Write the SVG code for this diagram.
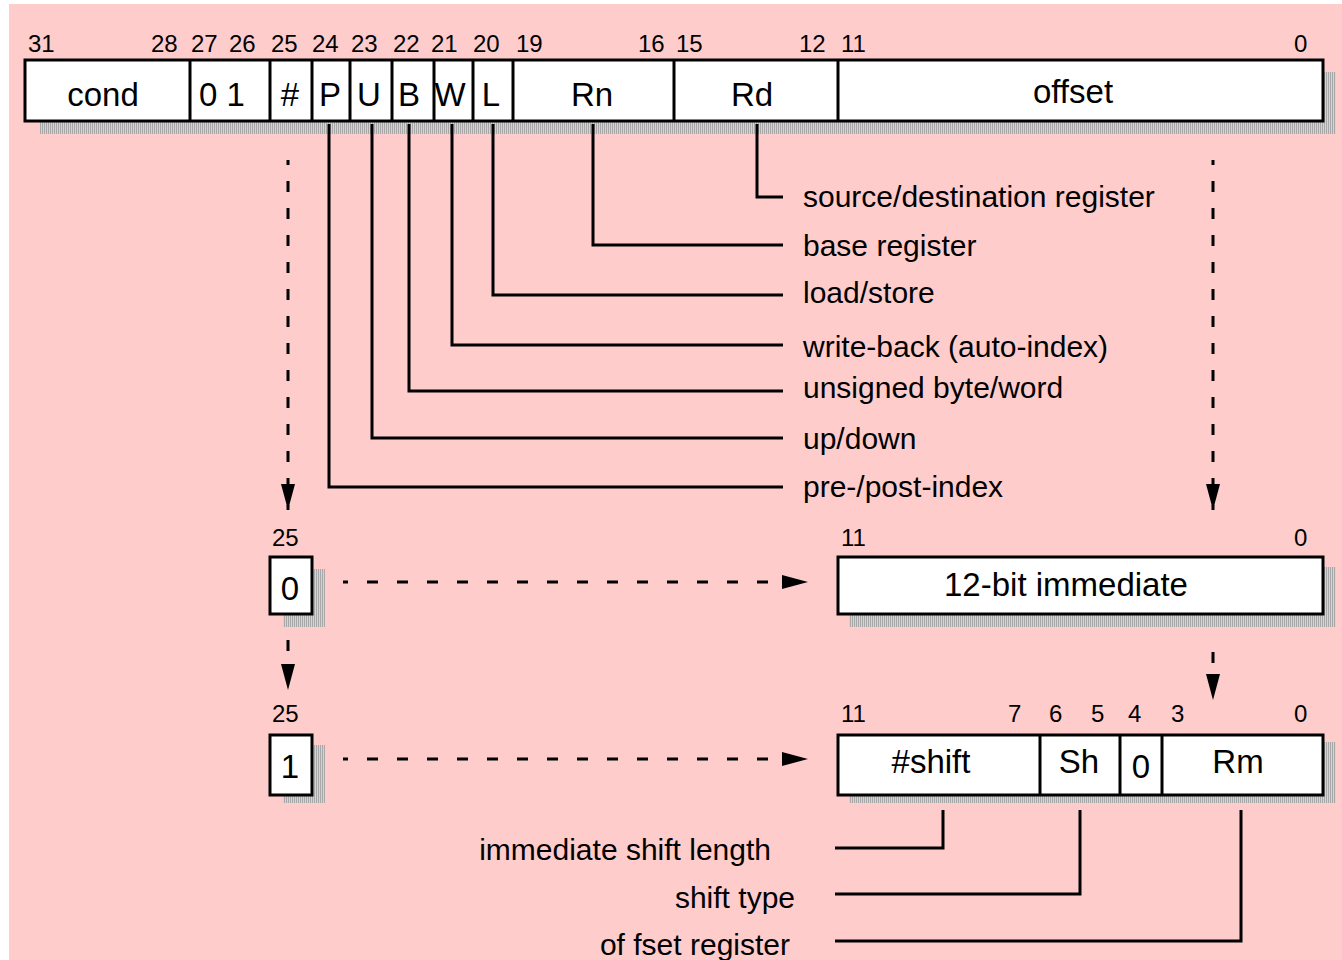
<svg xmlns="http://www.w3.org/2000/svg" width="1342" height="960" viewBox="0 0 1342 960">
<style>
.bg{fill:#ffcccc}
.box{fill:#fff;stroke:#000;stroke-width:3}
.div{stroke:#000;stroke-width:3;fill:none}
.shadow{fill:url(#stip)}
.num{font-family:"Liberation Sans",Arial,sans-serif;font-size:24px;fill:#000}
.fld{font-family:"Liberation Sans",Arial,sans-serif;font-size:33px;fill:#000;text-anchor:middle}
.lbl{font-family:"Liberation Sans",Arial,sans-serif;font-size:30px;fill:#000}
.lead{stroke:#000;stroke-width:3;fill:none}
.dashv{stroke:#000;stroke-width:3;fill:none;stroke-dasharray:11 16}
.dashh{stroke:#000;stroke-width:3;fill:none;stroke-dasharray:11 19}
</style>
<defs>
<pattern id="stip" width="2" height="2" patternUnits="userSpaceOnUse">
<rect width="2" height="2" fill="#d4d4d4"/>
<rect width="1" height="2" fill="#a8a8a8"/>
</pattern>
<marker id="ah" markerWidth="26" markerHeight="14" refX="26" refY="7" orient="auto" markerUnits="userSpaceOnUse">
<path d="M0,0 L26,7 L0,14 Z" fill="#000"/>
</marker>
</defs>
<rect class="bg" x="9" y="4" width="1333" height="956"/>

<g id="reg-main">
<rect class="shadow" x="40" y="72" width="1296" height="62"/>
<rect class="box" x="25" y="60" width="1298" height="61"/>
<path class="div" d="M190,60V121M270,60V121M312,60V121M350,60V121M392,60V121M434,60V121M473,60V121M513,60V121M674,60V121M838,60V121"/>
<text class="num" x="28" y="52">31</text>
<text class="num" x="151" y="52">28</text>
<text class="num" x="191" y="52">27</text>
<text class="num" x="229" y="52">26</text>
<text class="num" x="271" y="52">25</text>
<text class="num" x="312" y="52">24</text>
<text class="num" x="351" y="52">23</text>
<text class="num" x="393" y="52">22</text>
<text class="num" x="431" y="52">21</text>
<text class="num" x="473" y="52">20</text>
<text class="num" x="516" y="52">19</text>
<text class="num" x="638" y="52">16</text>
<text class="num" x="676" y="52">15</text>
<text class="num" x="799" y="52">12</text>
<text class="num" x="841" y="52">11</text>
<text class="num" x="1294" y="52">0</text>
<text class="fld" x="103" y="106">cond</text>
<text class="fld" x="222" y="106">0 1</text>
<text class="fld" x="290" y="106">#</text>
<text class="fld" x="330" y="106">P</text>
<text class="fld" x="369" y="106">U</text>
<text class="fld" x="409" y="106">B</text>
<text class="fld" x="450" y="106">W</text>
<text class="fld" x="491" y="106">L</text>
<text class="fld" x="592" y="106">Rn</text>
<text class="fld" x="752" y="106">Rd</text>
<text class="fld" x="1073" y="103">offset</text>
</g>

<g id="labels-main">
<text class="lbl" x="803" y="207">source/destination register</text>
<text class="lbl" x="803" y="256">base register</text>
<text class="lbl" x="803" y="303">load/store</text>
<text class="lbl" x="803" y="357">write-back (auto-index)</text>
<text class="lbl" x="803" y="398">unsigned byte/word</text>
<text class="lbl" x="803" y="449">up/down</text>
<text class="lbl" x="803" y="497">pre-/post-index</text>
</g>

<g id="bit25-0">
<rect class="shadow" x="283" y="569" width="42" height="58"/>
<rect class="box" x="270" y="557" width="42" height="57"/>
<text class="num" x="272" y="546">25</text>
<text class="fld" x="290" y="600">0</text>
</g>

<g id="imm12">
<rect class="shadow" x="849" y="567" width="487" height="60"/>
<rect class="box" x="838" y="557" width="485" height="57"/>
<text class="num" x="841" y="546">11</text>
<text class="num" x="1294" y="546">0</text>
<text class="fld" x="1066" y="596">12-bit immediate</text>
</g>

<g id="bit25-1">
<rect class="shadow" x="283" y="745" width="42" height="58"/>
<rect class="box" x="270" y="735" width="42" height="60"/>
<text class="num" x="272" y="722">25</text>
<text class="fld" x="290" y="778">1</text>
</g>

<g id="shiftreg">
<rect class="shadow" x="849" y="742" width="487" height="61"/>
<rect class="box" x="838" y="735" width="485" height="60"/>
<path class="div" d="M1040,735V795M1120,735V795M1162,735V795"/>
<text class="num" x="841" y="722">11</text>
<text class="num" x="1008" y="722">7</text>
<text class="num" x="1049" y="722">6</text>
<text class="num" x="1091" y="722">5</text>
<text class="num" x="1128" y="722">4</text>
<text class="num" x="1171" y="722">3</text>
<text class="num" x="1294" y="722">0</text>
<text class="fld" x="931" y="773">#shift</text>
<text class="fld" x="1079" y="773">Sh</text>
<text class="fld" x="1141" y="778">0</text>
<text class="fld" x="1238" y="773">Rm</text>
</g>

<g id="labels-shift">
<text class="lbl" x="771" y="860" text-anchor="end">immediate shift length</text>
<text class="lbl" x="795" y="908" text-anchor="end">shift type</text>
<text class="lbl" x="790" y="955" text-anchor="end">of fset register</text>
</g>

<g id="connectors">
<path class="lead" d="M757,124V197H783"/>
<path class="lead" d="M593,124V245H783"/>
<path class="lead" d="M493,124V295H783"/>
<path class="lead" d="M452,124V345H783"/>
<path class="lead" d="M409,124V391H783"/>
<path class="lead" d="M372,124V438H783"/>
<path class="lead" d="M329,124V487H783"/>
<path class="lead" d="M943,810V848H835"/>
<path class="lead" d="M1080,810V894H835"/>
<path class="lead" d="M1241,810V941H835"/>
<path class="dashv" d="M288,160V510" stroke-dashoffset="6" marker-end="url(#ah)"/>
<path class="dashv" d="M1213,160V510" stroke-dashoffset="6" marker-end="url(#ah)"/>
<path class="dashv" d="M288,640V690" marker-end="url(#ah)"/>
<path class="dashv" d="M1213,652V700" marker-end="url(#ah)"/>
<path class="dashh" d="M343,582H808" stroke-dashoffset="6" marker-end="url(#ah)"/>
<path class="dashh" d="M343,759H808" stroke-dashoffset="6" marker-end="url(#ah)"/>
</g>
</svg>
